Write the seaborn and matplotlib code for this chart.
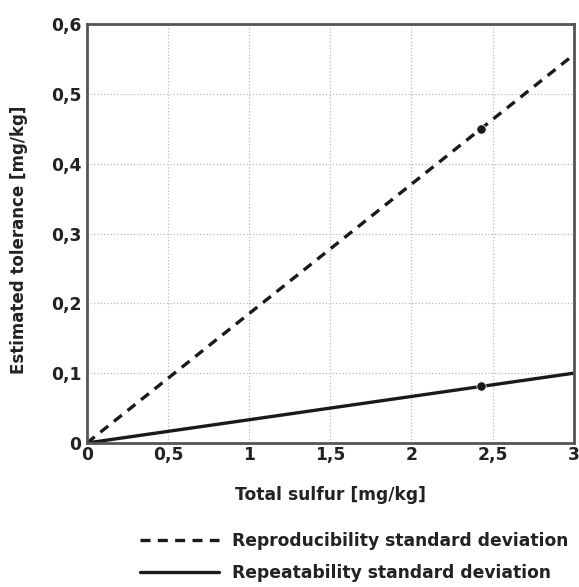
import pandas as pd
import seaborn as sns
import matplotlib.pyplot as plt

# Dados
sulfur = [0, 3]
reproducibility = [0, 0.556]
repeatability = [0, 0.1]
ponto_x = [2.43]
ponto_reprod = [0.45]
ponto_repet = [0.081]
y_ticks = [0, 0.1, 0.2, 0.3, 0.4, 0.5, 0.6]
x_ticks = [0, 0.5, 1, 1.5, 2, 2.5, 3]

sns.set_style("white")
plt.rcParams["font.family"] = ["DejaVu Sans"]
plt.rcParams["font.weight"] = "bold"

cor_texto = "#222222"
cor_eixo = "#555555"
tam = 12.3

df = pd.DataFrame({
    "sulfur": sulfur * 2,
    "tolerance": reproducibility + repeatability,
    "serie": ["Reproducibility standard deviation"] * 2 + ["Repeatability standard deviation"] * 2,
})

fig = plt.figure(figsize=(5.79, 5.87), dpi=100)
ax = fig.add_axes([0.150, 0.2453, 0.841, 0.7138])

sns.lineplot(data=df, x="sulfur", y="tolerance", style="serie",
             dashes={"Reproducibility standard deviation": (3, 2.2),
                     "Repeatability standard deviation": ""},
             color="#1a1a1a", linewidth=2.4, ax=ax, legend=False)
sns.scatterplot(x=ponto_x, y=ponto_reprod, color="#1a1a1a", s=45, ax=ax, zorder=5)
sns.scatterplot(x=ponto_x, y=ponto_repet, color="#1a1a1a", s=45, ax=ax, zorder=5)

ax.set_xlim(0, 3)
ax.set_ylim(0, 0.6)
ax.set_xticks(x_ticks)
ax.set_yticks(y_ticks)
ax.set_xticklabels([f"{v:g}".replace(".", ",") for v in x_ticks])
ax.set_yticklabels([f"{v:g}".replace(".", ",") for v in y_ticks])
ax.tick_params(axis="both", direction="in", length=7, width=1.2, color=cor_eixo,
               labelsize=tam, labelcolor=cor_texto)
ax.tick_params(axis="y", pad=4)
ax.tick_params(axis="x", pad=2)

ax.grid(True, color="#bbbbbb", linestyle=":", linewidth=0.9)
for s in ax.spines.values():
    s.set_color(cor_eixo)
    s.set_linewidth(2)

ax.set_xlabel("Total sulfur [mg/kg]", fontsize=tam, fontweight="bold", color=cor_texto, labelpad=16)
ax.set_ylabel("Estimated tolerance [mg/kg]", fontsize=12, fontweight="bold", color=cor_texto)
ax.yaxis.set_label_coords(-0.121, 0.485)

# Legenda abaixo do grafico
h1, = ax.plot([], [], color="#1a1a1a", linewidth=2.4, dashes=(3, 2.2))
h2, = ax.plot([], [], color="#1a1a1a", linewidth=2.4)
fig.legend([h1, h2], ["Reproducibility standard deviation", "Repeatability standard deviation"],
           loc="lower right", bbox_to_anchor=(1.008, -0.018), frameon=False,
           prop={"size": tam, "weight": "bold"}, labelcolor=cor_texto,
           handlelength=4.6, handletextpad=0.75, labelspacing=0.85)

plt.savefig("out.png", dpi=100)
